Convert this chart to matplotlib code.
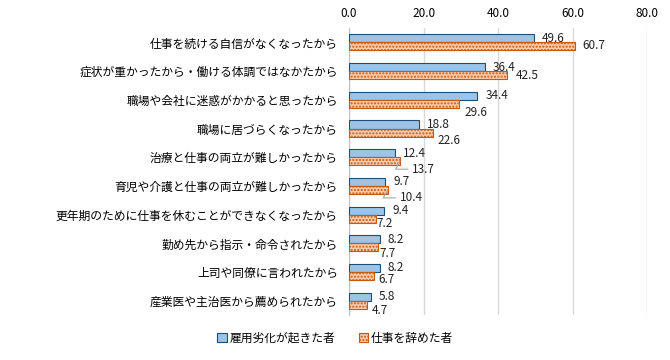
import numpy as np
import matplotlib.pyplot as plt

plt.rcParams['font.family'] = ['Noto Sans CJK JP', 'DejaVu Sans']

# データ
categories = [
    '仕事を続ける自信がなくなったから',
    '症状が重かったから・働ける体調ではなかたから',
    '職場や会社に迷惑がかかると思ったから',
    '職場に居づらくなったから',
    '治療と仕事の両立が難しかったから',
    '育児や介護と仕事の両立が難しかったから',
    '更年期のために仕事を休むことができなくなったから',
    '勤め先から指示・命令されたから',
    '上司や同僚に言われたから',
    '産業医や主治医から薦められたから',
]
degraded = [49.6, 36.4, 34.4, 18.8, 12.4, 9.7, 9.4, 8.2, 8.2, 5.8]
quit_job = [60.7, 42.5, 29.6, 22.6, 13.7, 10.4, 7.2, 7.7, 6.7, 4.7]
series_names = ['雇用劣化が起きた者', '仕事を辞めた者']
xticks = [0, 20, 40, 60, 80]

# 「仕事を辞めた者」のラベル位置（ピクセル単位のずれ）
quit_dx = [7, 8, 5, 4, 12, 12, 1, 2, 4, 5]
quit_dy = [1, 0, -9, -8, -8, -8, -5, -6, -4, -6]
leader = [False, False, False, False, True, True, False, False, False, False]

fig = plt.figure(figsize=(6.7, 3.6), dpi=100)
ax = fig.add_axes([0.521, 0.125, 0.445, 0.797])

y = np.arange(len(categories))
h = 0.28
b1 = ax.barh(y - h / 2, degraded, height=h, color='#9DC3E6',
             edgecolor='#1F4E79', linewidth=0.8, label=series_names[0], zorder=3)
b2 = ax.barh(y + h / 2, quit_job, height=h, color='#F8CBAD',
             edgecolor='#C55A11', linewidth=0.8, hatch='.....',
             label=series_names[1], zorder=3)

for yi, v in zip(y, degraded):
    ax.annotate(f'{v:.1f}', (v, yi - h / 2), xytext=(8, 0), textcoords='offset pixels',
                va='center', ha='left', fontsize=8.5, color='#222222')
for yi, v, dx, dy, ld in zip(y, quit_job, quit_dx, quit_dy, leader):
    props = None
    if ld:
        props = dict(arrowstyle='-', color='#A6A6A6', lw=0.8,
                     connectionstyle='angle,angleA=0,angleB=60,rad=0',
                     shrinkA=1, shrinkB=0)
    ax.annotate(f'{v:.1f}', (v, yi + h / 2), xytext=(dx, dy), textcoords='offset pixels',
                va='center', ha='left', fontsize=8.5, color='#222222',
                arrowprops=props)

ax.set_xlim(0, 80)
ax.set_ylim(len(categories) - 0.5, -0.5)
ax.set_xticks(xticks)
ax.set_xticklabels([f'{t:.1f}' for t in xticks], fontsize=8.5)
ax.xaxis.tick_top()
ax.tick_params(axis='x', length=0, pad=6)
ax.set_yticks(y)
ax.set_yticklabels(categories, fontsize=8.5)
ax.tick_params(axis='y', length=0, pad=8)
ax.grid(axis='x', color='#D9D9D9', linewidth=1, zorder=0)
for s in ['top', 'right', 'bottom']:
    ax.spines[s].set_visible(False)
ax.spines['left'].set_color('#BFBFBF')

fig.legend(handles=[b1, b2], labels=series_names, loc='center', bbox_to_anchor=(0.5, 0.06),
           ncol=2, frameon=False, fontsize=8.5, handlelength=0.8, handleheight=0.8,
           handletextpad=0.2, columnspacing=2.0)

fig.savefig('out.png', dpi=100)
